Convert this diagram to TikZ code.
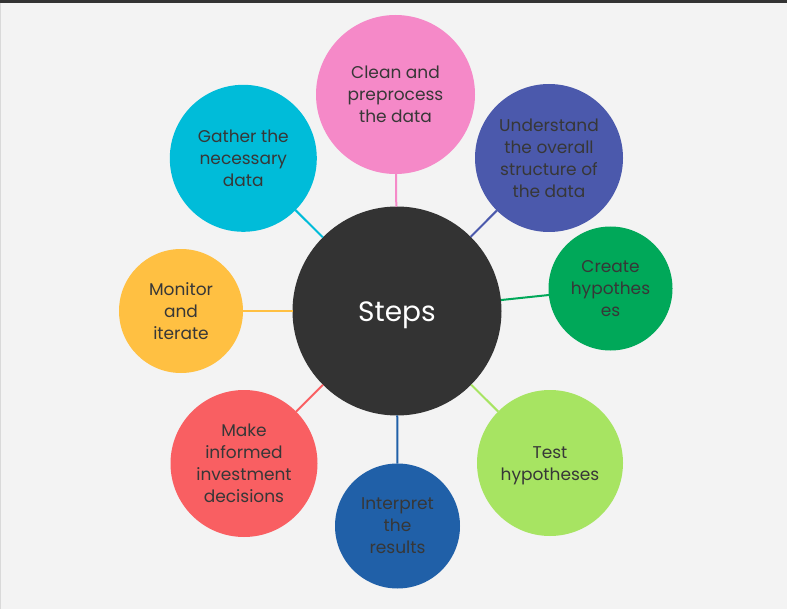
\documentclass[tikz,border=0pt]{standalone}
\usepackage{fontspec}
\setmainfont{Poppins}
\usetikzlibrary{positioning}
\definecolor{pagebg}{RGB}{243,243,243}
\definecolor{barcol}{RGB}{51,51,51}
\definecolor{inkgray}{RGB}{55,55,55}
\definecolor{hubcol}{RGB}{51,51,51}
\definecolor{pinkcol}{RGB}{245,137,200}
\definecolor{cyancol}{RGB}{0,188,217}
\definecolor{indigocol}{RGB}{75,89,172}
\definecolor{greencol}{RGB}{0,168,89}
\definecolor{limecol}{RGB}{167,228,98}
\definecolor{bluecol}{RGB}{32,96,168}
\definecolor{redcol}{RGB}{249,95,98}
\definecolor{yellowcol}{RGB}{255,192,66}

\begin{document}
\begin{tikzpicture}[x=1pt,y=-1pt,every node/.style={circle, inner sep=0pt, outer sep=0pt, align=center, text=inkgray, font=\fontsize{17}{22}\selectfont},link/.style={line width=2pt}]
% page
\fill[pagebg] (0,0) rectangle (787,609);
\fill[barcol] (0,0) rectangle (787,3);
\draw[gray!30, line width=1pt] (0.5,3) -- (0.5,609);
\useasboundingbox (0,0) rectangle (787,609);
% hub
\node[fill=hubcol, minimum size=209pt, text=white, font=\fontsize{28}{34}\selectfont] (hub) at (397,311) {\raisebox{-10.5pt}[0pt][0pt]{Steps}};
% satellites
\node[fill=pinkcol, minimum size=159pt] (clean) at (395.5,94.5) {Clean and\\preprocess\\the data};
\node[fill=indigocol, minimum size=148pt] (understand) at (549,158) {Understand\\the overall\\structure of\\the data};
\node[fill=greencol, minimum size=124pt] (create) at (610.5,288.5) {Create\\hypothes\\es};
\node[fill=limecol, minimum size=146pt] (test) at (550,463) {\raisebox{-6.5pt}[0pt][0pt]{\begin{tabular}{@{}c@{}}Test\\hypotheses\end{tabular}}};
\node[fill=bluecol, minimum size=125pt] (interpret) at (397.5,526) {Interpret\\the\\results};
\node[fill=redcol, minimum size=147pt] (decide) at (244,463.5) {Make\\informed\\investment\\decisions};
\node[fill=yellowcol, minimum size=124pt] (monitor) at (181,311) {Monitor\\and\\iterate};
\node[fill=cyancol, minimum size=147pt] (gather) at (243.3,158.3) {Gather the\\necessary\\data};
% links
\draw[link, pinkcol] (hub) -- (clean);
\draw[link, indigocol] (hub) -- (understand);
\draw[link, greencol] (hub) -- (create);
\draw[link, limecol] (hub) -- (test);
\draw[link, bluecol] (hub) -- (interpret);
\draw[link, redcol] (hub) -- (decide);
\draw[link, yellowcol] (hub) -- (monitor);
\draw[link, cyancol] (hub) -- (gather);
\end{tikzpicture}
\end{document}
